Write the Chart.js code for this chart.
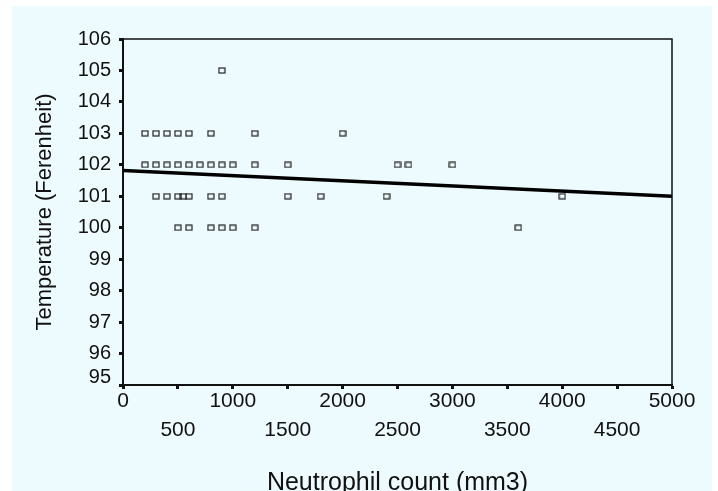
<!DOCTYPE html>
<html><head><meta charset="utf-8">
<script src="https://cdn.jsdelivr.net/npm/chart.js@4"></script>
<style>
html,body{margin:0;padding:0;background:#fff;overflow:hidden;width:718px;height:491px}
#wrap{position:absolute;left:12px;top:6px;width:700px;height:500px;background:#eefbfe}
</style></head><body>
<div id="wrap"><canvas id="c"></canvas></div>
<script>
// Data
const neutrophil = [
  200,300,400,500,600,800,1200,2000,
  200,300,400,500,600,700,800,900,1000,1200,1500,2500,2600,3000,
  300,400,500,550,600,800,900,1500,1800,2400,4000,
  500,600,800,900,1000,1200,3600,
  900
];
const temperature = [
  103,103,103,103,103,103,103,103,
  102,102,102,102,102,102,102,102,102,102,102,102,102,102,
  101,101,101,101,101,101,101,101,101,101,101,
  100,100,100,100,100,100,100,
  105
];
const fitX = [0, 5000];
const fitY = [101.82, 101.0];
const xTicks = [0,500,1000,1500,2000,2500,3000,3500,4000,4500,5000];
const yTicks = [95,96,97,98,99,100,101,102,103,104,105,106];
const xTitle = 'Neutrophil count (mm3)';
const yTitle = 'Temperature (Ferenheit)';

const FONT = "'Liberation Sans', Arial, sans-serif";
const INK = '#111';

const mk = document.createElement('canvas');
mk.width = 8; mk.height = 7;
const g = mk.getContext('2d');
g.strokeStyle = '#222'; g.lineWidth = 1.2;
g.strokeRect(1, 1, 6, 5);

const frame = {
  id: 'frame',
  afterDatasetsDraw(chart) {
    const {ctx, chartArea: a} = chart;
    ctx.save();
    ctx.strokeStyle = INK; ctx.lineWidth = 1.5;
    ctx.beginPath();
    ctx.moveTo(a.left, a.top); ctx.lineTo(a.right, a.top); ctx.lineTo(a.right, a.bottom);
    ctx.stroke();
    ctx.restore();
  }
};

new Chart(document.getElementById('c'), {
  data: {
    datasets: [
      {
        type: 'scatter',
        data: neutrophil.map((x, i) => ({x, y: temperature[i]})),
        pointStyle: mk,
        pointRadius: 4,
        pointHoverRadius: 4
      },
      {
        type: 'line',
        data: fitX.map((x, i) => ({x, y: fitY[i]})),
        borderColor: '#000',
        borderWidth: 3.5,
        pointRadius: 0,
        fill: false
      }
    ]
  },
  options: {
    responsive: true,
    maintainAspectRatio: false,
    devicePixelRatio: 1,
    animation: false,
    events: [],
    layout: {padding: {left: 0, top: 33, right: 40, bottom: 0}},
    plugins: {legend: {display: false}, tooltip: {enabled: false}},
    scales: {
      x: {
        type: 'linear', min: 0, max: 5000,
        afterBuildTicks: s => { s.ticks = xTicks.map(v => ({value: v})); },
        afterFit: s => { s.height = 121; },
        ticks: {
          autoSkip: false, maxRotation: 0, color: INK, padding: -2.5,
          font: {family: FONT, size: 21, lineHeight: '29px'},
          callback: v => ((v / 500) % 2 === 1 ? ['', String(v)] : String(v))
        },
        grid: {drawOnChartArea: false, drawTicks: true, tickLength: 4, tickWidth: 3, tickColor: INK},
        border: {display: true, color: INK, width: 2},
        title: {display: true, text: xTitle, color: INK, font: {family: FONT, size: 25, lineHeight: '30px'}, padding: {top: 0, bottom: 7.5}}
      },
      y: {
        type: 'linear', min: 95, max: 106,
        afterBuildTicks: s => { s.ticks = yTicks.map(v => ({value: v})); },
        afterFit: s => { s.width = 111; },
        ticks: {
          autoSkip: false, color: INK, padding: 8, font: {family: FONT, size: 20, lineHeight: '16px'},
          callback: v => (v === 95 ? [String(v), ''] : String(v))
        },
        grid: {drawOnChartArea: false, drawTicks: true, tickLength: 4, tickWidth: 3, tickColor: INK},
        border: {display: true, color: INK, width: 2},
        title: {display: true, text: yTitle, color: INK, font: {family: FONT, size: 22, lineHeight: '26px'}, padding: {top: 20, bottom: 0}}
      }
    }
  },
  plugins: [frame]
});
</script>
</body></html>
